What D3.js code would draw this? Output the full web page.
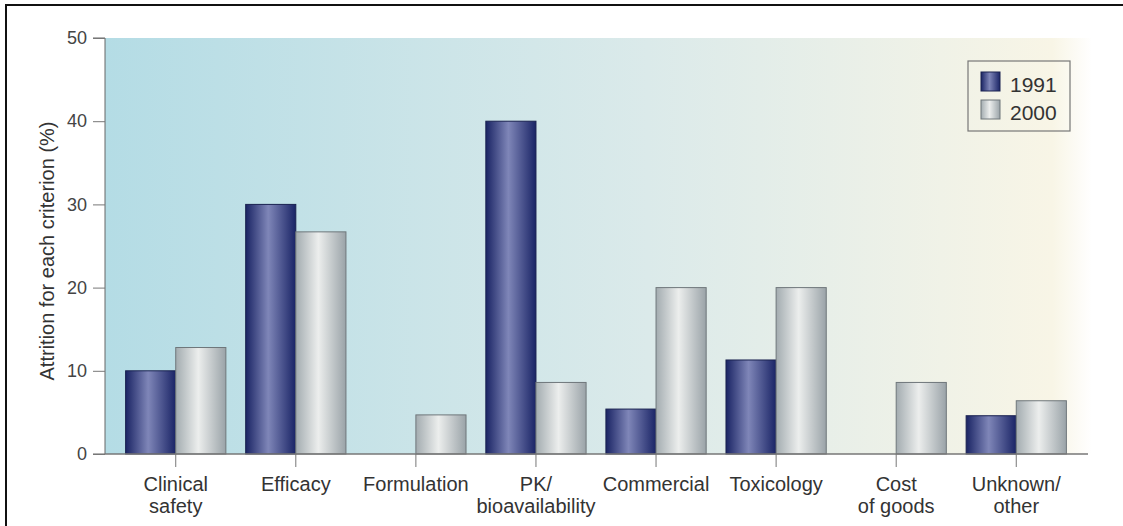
<!DOCTYPE html>
<html>
<head>
<meta charset="utf-8">
<script src="https://cdn.jsdelivr.net/npm/d3@7"></script>
<style>
  body { margin: 0; background: #fff; }
  text { font-family: "Liberation Sans", Arial, sans-serif; }
</style>
</head>
<body>
<svg id="chart"></svg>
<script>
const categories = [
  "Clinical\nsafety", "Efficacy", "Formulation", "PK/\nbioavailability",
  "Commercial", "Toxicology", "Cost\nof goods", "Unknown/\nother"
];
const years = ["1991", "2000"];
const values1991 = [10, 30, 0, 40, 5.4, 11.3, 0, 4.6];
const values2000 = [12.8, 26.7, 4.7, 8.6, 20, 20, 8.6, 6.4];
const yTicks = [0, 10, 20, 30, 40, 50];

const width = 1123;
const height = 526;

const svg = d3.select("#chart").attr("width", width).attr("height", height);
const defs = svg.append("defs");

// plot background, blue to cream
const bg = defs.append("linearGradient").attr("id", "bg");
bg.append("stop").attr("offset", "0%").attr("stop-color", "#b4dce5");
bg.append("stop").attr("offset", "55%").attr("stop-color", "#dbeaea");
bg.append("stop").attr("offset", "96%").attr("stop-color", "#f8f5e6");
bg.append("stop").attr("offset", "100%").attr("stop-color", "#ffffff");

const blue = defs.append("linearGradient").attr("id", "g1991");
blue.append("stop").attr("offset", "0%").attr("stop-color", "#1a2464");
blue.append("stop").attr("offset", "45%").attr("stop-color", "#7f86b8");
blue.append("stop").attr("offset", "100%").attr("stop-color", "#1a2466");

const grey = defs.append("linearGradient").attr("id", "g2000");
grey.append("stop").attr("offset", "0%").attr("stop-color", "#a3acb0");
grey.append("stop").attr("offset", "45%").attr("stop-color", "#eceeed");
grey.append("stop").attr("offset", "100%").attr("stop-color", "#9aa3a8");

// outer frame
svg.append("rect")
  .attr("x", 6).attr("y", 5).attr("width", 1130).attr("height", 540)
  .attr("fill", "none").attr("stroke", "#111").attr("stroke-width", 2);

const plotL = 105, plotR = 1092, plotT = 38, plotB = 454;

const x = d3.scaleBand()
  .domain(categories)
  .range([116, 1076])
  .paddingInner(0.165)
  .paddingOuter(0.08);

const x1 = d3.scaleBand().domain(years).range([0, x.bandwidth()]);

const y = d3.scaleLinear().domain([0, 50]).range([plotB, plotT]);

svg.append("rect")
  .attr("x", plotL).attr("y", plotT)
  .attr("width", plotR - plotL).attr("height", plotB - plotT)
  .attr("fill", "url(#bg)");

const rows = categories.map((c, i) => ({ cat: c, v: [values1991[i], values2000[i]] }));

const groups = svg.selectAll(".grp")
  .data(rows)
  .enter()
  .append("g")
  .attr("transform", (d) => `translate(${x(d.cat)},0)`);

groups.selectAll("rect")
  .data((d) => years.map((yr, k) => ({ yr, v: d.v[k] })).filter((e) => e.v > 0))
  .enter()
  .append("rect")
  .attr("x", (d) => x1(d.yr))
  .attr("y", (d) => y(d.v))
  .attr("width", x1.bandwidth())
  .attr("height", (d) => y(0) - y(d.v))
  .attr("fill", (d) => (d.yr === "1991" ? "url(#g1991)" : "url(#g2000)"))
  .attr("stroke", (d) => (d.yr === "1991" ? "#1a2250" : "#6f777b"))
  .attr("stroke-width", 1);

// axes
const yAxis = d3.axisLeft(y).tickValues(yTicks).tickSize(12).tickPadding(6);
const gy = svg.append("g").attr("transform", `translate(${plotL},0)`).call(yAxis);
gy.select(".domain").attr("stroke", "#666").attr("d", `M-12,${plotT}H0V${plotB}H-12`);
gy.selectAll(".tick line").attr("stroke", "#777");
gy.selectAll(".tick text").attr("font-size", 18).attr("fill", "#444");

const gx = svg.append("g").attr("transform", `translate(0,${plotB})`);
gx.append("line")
  .attr("x1", plotL).attr("x2", plotR - 4)
  .attr("stroke", "#777").attr("stroke-width", 1.5);
gx.selectAll(".tk")
  .data(categories)
  .enter()
  .append("line")
  .attr("x1", (d) => x(d) + x.bandwidth() / 2)
  .attr("x2", (d) => x(d) + x.bandwidth() / 2)
  .attr("y1", 0).attr("y2", 13)
  .attr("stroke", "#777");

gx.selectAll(".lbl")
  .data(categories)
  .enter()
  .append("text")
  .attr("text-anchor", "middle")
  .attr("font-size", 20)
  .attr("fill", "#333")
  .attr("transform", (d) => `translate(${x(d) + x.bandwidth() / 2},37)`)
  .selectAll("tspan")
  .data((d) => d.split("\n"))
  .enter()
  .append("tspan")
  .attr("x", 0)
  .attr("dy", (d, i) => (i === 0 ? 0 : 22))
  .text((d) => d);

svg.append("text")
  .attr("transform", `translate(54,${(plotT + plotB) / 2 + 5}) rotate(-90)`)
  .attr("text-anchor", "middle")
  .attr("font-size", 20)
  .attr("fill", "#333")
  .text("Attrition for each criterion (%)");

// legend
const legend = svg.append("g").attr("transform", "translate(968,61)");
legend.append("rect")
  .attr("width", 102).attr("height", 70)
  .attr("fill", "none").attr("stroke", "#777").attr("stroke-width", 1.2);
years.forEach((yr, i) => {
  legend.append("rect")
    .attr("x", 13).attr("y", 11 + i * 28)
    .attr("width", 19).attr("height", 19)
    .attr("fill", yr === "1991" ? "url(#g1991)" : "url(#g2000)")
    .attr("stroke", yr === "1991" ? "#1a2250" : "#6f777b");
  legend.append("text")
    .attr("x", 42).attr("y", 31 + i * 28)
    .attr("font-size", 21)
    .attr("fill", "#333")
    .text(yr);
});
</script>
</body>
</html>
